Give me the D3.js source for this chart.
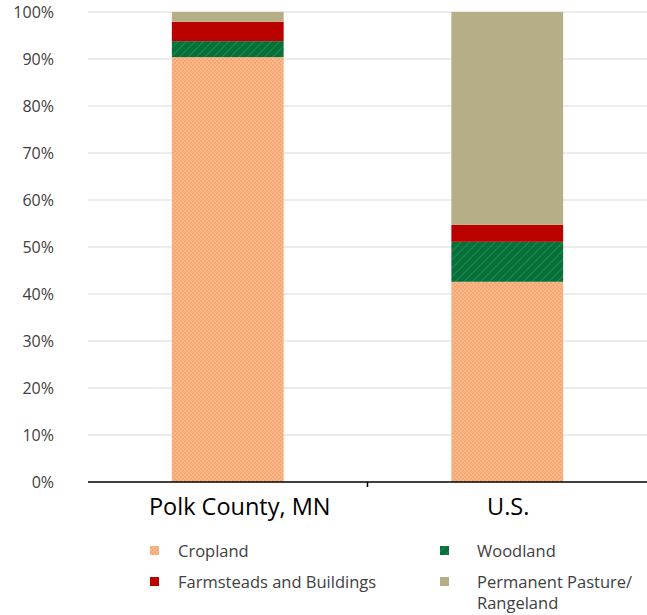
<!DOCTYPE html>
<html>
<head>
<meta charset="utf-8">
<script src="https://cdn.jsdelivr.net/npm/d3@7"></script>
<style>
  body { margin: 0; background: #fff; }
  text { font-family: "Open Sans", "Noto Sans", sans-serif; }
</style>
</head>
<body>
<div id="chart"></div>
<script>
// Data
const regions = ["Polk County, MN", "U.S."];
const landUses = ["Cropland", "Woodland", "Farmsteads and Buildings", "Permanent Pasture/ Rangeland"];
const cropland = [90.4, 42.6];
const woodland = [3.4, 8.5];
const farmsteads = [4.1, 3.6];
const pasture = [2.1, 45.3];
const yTicks = [0, 10, 20, 30, 40, 50, 60, 70, 80, 90, 100];

const width = 647, height = 615;
const margin = {top: 12, right: 0, bottom: 133, left: 88};
const innerW = width - margin.left - margin.right;
const innerH = height - margin.top - margin.bottom;

const rows = regions.map((r, i) => ({
  region: r,
  "Cropland": cropland[i],
  "Woodland": woodland[i],
  "Farmsteads and Buildings": farmsteads[i],
  "Permanent Pasture/ Rangeland": pasture[i]
}));

const svg = d3.select("#chart").append("svg")
  .attr("width", width)
  .attr("height", height);

// Patterns
const defs = svg.append("defs");
const dots = defs.append("pattern")
  .attr("id", "dots").attr("patternUnits", "userSpaceOnUse")
  .attr("width", 4).attr("height", 4);
dots.append("rect").attr("width", 4).attr("height", 4).attr("fill", "#f9b88a");
dots.append("circle").attr("cx", 1).attr("cy", 1).attr("r", 0.8).attr("fill", "#ee9455");
dots.append("circle").attr("cx", 3).attr("cy", 3).attr("r", 0.8).attr("fill", "#ee9455");

const hatch = defs.append("pattern")
  .attr("id", "hatch").attr("patternUnits", "userSpaceOnUse")
  .attr("width", 6).attr("height", 6)
  .attr("patternTransform", "rotate(45)");
hatch.append("rect").attr("width", 6).attr("height", 6).attr("fill", "#07703a");
hatch.append("line").attr("x1", 0).attr("y1", 0).attr("x2", 0).attr("y2", 6)
  .attr("stroke", "#1f8a4c").attr("stroke-width", 2);

const fills = {
  "Cropland": "url(#dots)",
  "Woodland": "url(#hatch)",
  "Farmsteads and Buildings": "#bb0000",
  "Permanent Pasture/ Rangeland": "#b5ae86"
};

const g = svg.append("g").attr("transform", `translate(${margin.left},${margin.top})`);

const x = d3.scaleBand().domain(regions).range([0, innerW])
  .paddingInner(0.6).paddingOuter(0.3);
const y = d3.scaleLinear().domain([0, 100]).range([innerH, 0]);

// Gridlines
g.append("g").selectAll("line").data(yTicks.filter(d => d > 0)).join("line")
  .attr("x1", 0).attr("x2", innerW)
  .attr("y1", d => y(d)).attr("y2", d => y(d))
  .attr("stroke", "#d9d9d9").attr("stroke-width", 1);

// Y labels
g.append("g").selectAll("text").data(yTicks).join("text")
  .attr("x", -34).attr("y", d => y(d)).attr("dy", "0.35em")
  .attr("text-anchor", "end")
  .attr("font-size", 16).attr("fill", "#404040")
  .text(d => d + "%");

// Stacked bars
const series = d3.stack().keys(landUses)(rows);
g.append("g").selectAll("g").data(series).join("g")
  .attr("fill", d => fills[d.key])
  .selectAll("rect").data(d => d).join("rect")
  .attr("x", d => x(d.data.region))
  .attr("width", x.bandwidth())
  .attr("y", d => y(d[1]))
  .attr("height", d => y(d[0]) - y(d[1]));

// X axis
const xAxis = g.append("g").attr("transform", `translate(0,${innerH})`);
xAxis.append("line").attr("x1", 0).attr("x2", innerW)
  .attr("stroke", "#000").attr("stroke-width", 1.5);
xAxis.append("line").attr("x1", innerW / 2).attr("x2", innerW / 2)
  .attr("y1", 0).attr("y2", 5).attr("stroke", "#000").attr("stroke-width", 1.5);
xAxis.selectAll("text.cat").data(regions).join("text")
  .attr("class", "cat")
  .attr("x", d => x(d) + x.bandwidth() / 2)
  .attr("dx", (d, i) => i === 0 ? 12 : 1)
  .attr("y", 33)
  .attr("text-anchor", "middle")
  .attr("font-size", 23.5).attr("fill", "#000")
  .text(d => d);

// Legend
const legendPos = [
  {key: "Cropland", x: 150, y: 551},
  {key: "Woodland", x: 440, y: 551},
  {key: "Farmsteads and Buildings", x: 150, y: 582},
  {key: "Permanent Pasture/ Rangeland", x: 440, y: 582}
];
const legend = svg.append("g").selectAll("g").data(legendPos).join("g")
  .attr("transform", d => `translate(${d.x},${d.y})`);
legend.append("rect").attr("x", 0).attr("y", -5).attr("width", 9).attr("height", 9)
  .attr("fill", d => fills[d.key]);
legend.each(function(d) {
  const parts = d.key === "Permanent Pasture/ Rangeland" ? ["Permanent Pasture/", "Rangeland"] : [d.key];
  const tx = d.key === "Cropland" || d.key === "Farmsteads and Buildings" ? 28 : 37;
  d3.select(this).selectAll("text").data(parts).join("text")
    .attr("x", tx)
    .attr("y", (p, i) => i * 21)
    .attr("dy", "0.35em")
    .attr("font-size", 16.5).attr("fill", "#404040")
    .text(p => p);
});
</script>
</body>
</html>
